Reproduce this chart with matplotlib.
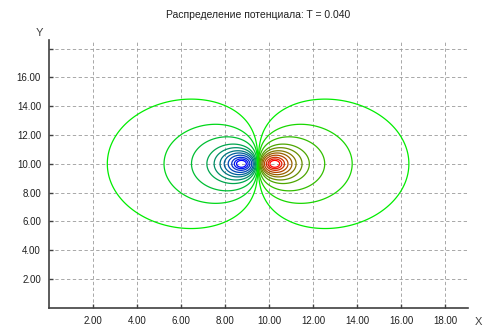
import matplotlib
matplotlib.use('Agg')
import matplotlib.pyplot as plt
from matplotlib.colors import LinearSegmentedColormap
import numpy as np

plt.rcParams['font.family'] = ['Liberation Sans', 'DejaVu Sans']

# charges of the dipole
charge_x = [8.75, 10.25]
charge_y = [10.0, 10.0]
charge_q = [-1.0, 1.0]
soft = 0.15
y_stretch = 1.07   # the loops are a bit taller than a pure 1/r dipole

# x positions where the contours on the blue side cross the line y = 10
crossing_x = [2.64, 5.22, 6.47, 7.17, 7.50, 7.77, 7.96, 8.14, 8.30, 8.42, 8.52]

x_ticks = [2, 4, 6, 8, 10, 12, 14, 16, 18]
y_ticks = [2, 4, 6, 8, 10, 12, 14, 16, 18]
y_labels = ['2.00', '4.00', '6.00', '8.00', '10.00', '12.00', '14.00', '16.00', '']
x_max = 19.05
y_max = 18.6


def potential(x, y):
    v = np.zeros_like(x, dtype=float)
    for cx, cy, q in zip(charge_x, charge_y, charge_q):
        v += q / np.sqrt((x - cx) ** 2 + ((y - cy) / y_stretch) ** 2 + soft ** 2)
    return v


xs = np.linspace(0, x_max, 400)
ys = np.linspace(0, y_max, 390)
X, Y = np.meshgrid(xs, ys)
Z = potential(X, Y)

neg = [float(potential(np.array(cx), np.array(10.0))) for cx in crossing_x]
neg = sorted(neg)                 # most negative first
levels = neg + [-v for v in neg[::-1]]

cmap = LinearSegmentedColormap.from_list('bgr', ['#0000ff', '#00ee00', '#ff0000'])
n = len(neg)
pos = [0.5 * k / (n - 1) for k in range(n)]
colors = [cmap(t) for t in pos] + [cmap(1 - t) for t in pos[::-1]]

fig = plt.figure(figsize=(4.83, 3.33), dpi=100)
ax = fig.add_axes([49.3 / 483, 1 - 307.8 / 333, (468 - 49.3) / 483, (307.8 - 40) / 333])

ax.contour(X, Y, Z, levels=levels, colors=colors, linewidths=0.9)

ax.set_xlim(0, x_max)
ax.set_ylim(0, y_max)
ax.set_xticks(x_ticks)
ax.set_xticklabels(['%.2f' % v for v in x_ticks])
ax.set_yticks(y_ticks)
ax.set_yticklabels(y_labels)
ax.grid(True, color='#9a9a9a', linestyle=(0, (4, 3)), linewidth=0.6)
ax.set_axisbelow(True)

for s in ['top', 'right']:
    ax.spines[s].set_visible(False)
for s in ['left', 'bottom']:
    ax.spines[s].set_color('#404040')
    ax.spines[s].set_linewidth(1.2)
ax.tick_params(direction='in', length=3, width=1, color='#404040',
               labelsize=7, labelcolor='#202020', pad=6)

fig.text(258 / 483, 1 - 15 / 333, 'Распределение потенциала: T = 0.040',
         ha='center', va='center', fontsize=7.5, color='#202020')
fig.text(39 / 483, 1 - 33 / 333, 'Y', ha='center', va='center', fontsize=8, color='#404040')
fig.text(478 / 483, 1 - 322 / 333, 'X', ha='center', va='center', fontsize=8, color='#404040')

fig.savefig('out.png', dpi=100)
